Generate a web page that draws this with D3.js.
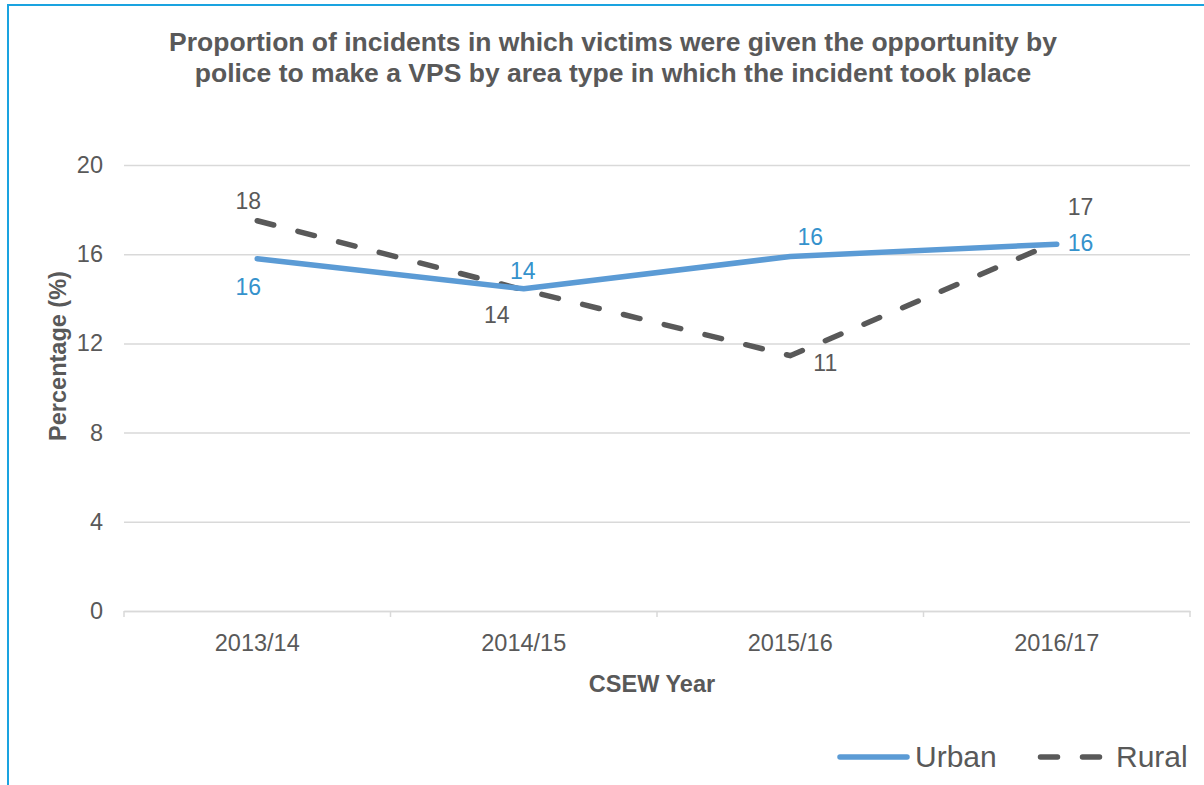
<!DOCTYPE html>
<html>
<head>
<meta charset="utf-8">
<script src="https://cdn.jsdelivr.net/npm/d3@7"></script>
<style>
	body { margin:0; background:#fff; }
	svg { display:block; font-family:'Liberation Sans', Arial, sans-serif; }
</style>
</head>
<body>
<svg id="chart" width="1204" height="785"></svg>
<script>
var categories = ["2013/14", "2014/15", "2015/16", "2016/17"];
var urbanValues = [15.8, 14.45, 15.9, 16.45];
var ruralValues = [17.5, 14.4, 11.45, 16.55];
var yTicks = [0, 4, 8, 12, 16, 20];
var seriesNames = ["Urban", "Rural"];

var titleLines = ["Proportion of incidents in which victims were given the opportunity by",
	"police to make a VPS by area type in which the incident took place"];

// label placement per point [dx, dy, anchor]
var urbanLabelPos = [[-9, 36, "middle"], [-1, -10, "middle"], [20, -11, "middle"], [11, 7, "start"]];
var ruralLabelPos = [[-9, -12, "middle"], [-27, 33, "middle"], [35, 15, "middle"], [11, -27, "start"]];

var textGrey = "#595959";
var urbanColor = "#5b9bd5";
var urbanText = "#3592cc";
var ruralColor = "#595959";
var dashPattern = "17,25";

var svg = d3.select("#chart");

// frame
svg.append("rect")
	.attr("x", 8).attr("y", 5)
	.attr("width", 1400).attr("height", 1000)
	.attr("fill", "none")
	.attr("stroke", "#1aa3e0")
	.attr("stroke-width", 2);

var x = d3.scaleBand().domain(categories).range([124, 1190]);
var y = d3.scaleLinear().domain([0, 20]).range([611, 165]);

// title
svg.append("g").selectAll("text")
	.data(titleLines)
	.enter().append("text")
	.attr("x", 613)
	.attr("y", function (d, i) { return 51 + i * 31; })
	.attr("text-anchor", "middle")
	.attr("font-size", 26.5)
	.attr("font-weight", "bold")
	.attr("fill", textGrey)
	.text(function (d) { return d; });

// gridlines + y axis
var yAxis = svg.append("g")
	.attr("transform", "translate(124,0)")
	.call(d3.axisLeft(y).tickValues(yTicks).tickSize(-1066).tickPadding(21));
yAxis.select(".domain").remove();
yAxis.selectAll(".tick line").attr("stroke", "#d9d9d9").attr("stroke-width", 1.5);
yAxis.selectAll(".tick text")
	.attr("fill", textGrey)
	.attr("font-size", 23.5)
	.attr("font-family", "'Liberation Sans', Arial, sans-serif");

// x axis
var xAxis = svg.append("g")
	.attr("transform", "translate(0," + y(0) + ")")
	.call(d3.axisBottom(x).tickSize(0).tickPadding(23));
xAxis.select(".domain").attr("stroke", "#d9d9d9").attr("stroke-width", 1.5);
xAxis.selectAll(".tick text")
	.attr("fill", textGrey)
	.attr("font-size", 23.5)
	.attr("font-family", "'Liberation Sans', Arial, sans-serif");
var bounds = [x.range()[0]].concat(categories.map(function (c) { return x(c) + x.bandwidth(); }));
svg.append("g").selectAll("line")
	.data(bounds)
	.enter().append("line")
	.attr("x1", function (d) { return d; })
	.attr("x2", function (d) { return d; })
	.attr("y1", y(0))
	.attr("y2", y(0) + 6)
	.attr("stroke", "#d9d9d9")
	.attr("stroke-width", 1.5);

// axis titles
svg.append("text")
	.attr("x", 652).attr("y", 692)
	.attr("text-anchor", "middle")
	.attr("font-size", 23.5)
	.attr("font-weight", "bold")
	.attr("fill", textGrey)
	.text("CSEW Year");

svg.append("text")
	.attr("transform", "translate(66,356) rotate(-90)")
	.attr("text-anchor", "middle")
	.attr("font-size", 23.5)
	.attr("font-weight", "bold")
	.attr("fill", textGrey)
	.text("Percentage (%)");

var cx = function (d, i) { return x(categories[i]) + x.bandwidth() / 2; };
var line = d3.line()
	.x(function (d, i) { return cx(d, i); })
	.y(function (d) { return y(d); });

svg.append("path")
	.datum(ruralValues)
	.attr("d", line)
	.attr("fill", "none")
	.attr("stroke", ruralColor)
	.attr("stroke-width", 5.5)
	.attr("stroke-linecap", "round")
	.attr("stroke-dasharray", dashPattern);

svg.append("path")
	.datum(urbanValues)
	.attr("d", line)
	.attr("fill", "none")
	.attr("stroke", urbanColor)
	.attr("stroke-width", 5.5)
	.attr("stroke-linecap", "round")
	.attr("stroke-linejoin", "round");

function drawLabels (values, pos, color) {
	svg.append("g").selectAll("text")
		.data(values)
		.enter().append("text")
		.attr("x", function (d, i) { return cx(d, i) + pos[i][0]; })
		.attr("y", function (d, i) { return y(d) + pos[i][1]; })
		.attr("text-anchor", function (d, i) { return pos[i][2]; })
		.attr("font-size", 23)
		.attr("fill", color)
		.text(d3.format(".0f"));
}
drawLabels(urbanValues, urbanLabelPos, urbanText);
drawLabels(ruralValues, ruralLabelPos, textGrey);

// legend
var legend = svg.append("g");
legend.append("line")
	.attr("x1", 840).attr("x2", 907)
	.attr("y1", 757).attr("y2", 757)
	.attr("stroke", urbanColor)
	.attr("stroke-width", 5.5)
	.attr("stroke-linecap", "round");
legend.append("text")
	.attr("x", 915).attr("y", 767)
	.attr("font-size", 30)
	.attr("fill", textGrey)
	.text(seriesNames[0]);
legend.append("line")
	.attr("x1", 1040.5).attr("x2", 1100)
	.attr("y1", 757).attr("y2", 757)
	.attr("stroke", ruralColor)
	.attr("stroke-width", 5.5)
	.attr("stroke-linecap", "round")
	.attr("stroke-dasharray", dashPattern);
legend.append("text")
	.attr("x", 1116).attr("y", 767)
	.attr("font-size", 30)
	.attr("fill", textGrey)
	.text(seriesNames[1]);
</script>
</body>
</html>
